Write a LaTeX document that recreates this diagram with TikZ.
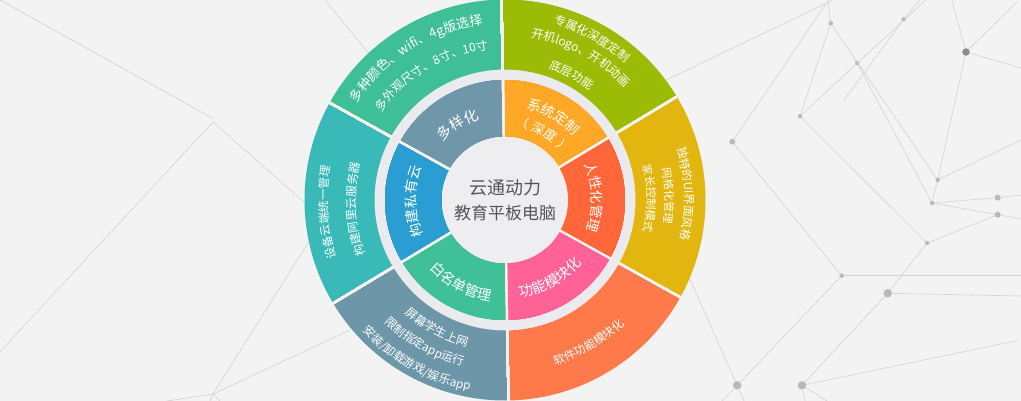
\documentclass[tikz,border=0pt]{standalone}
\usepackage{fontspec}
\setmainfont{Noto Sans CJK SC}
\usepackage{xcolor}
\usetikzlibrary{decorations.text}
\definecolor{paper}{HTML}{F3F3F4}
\definecolor{ringgap}{HTML}{EBEBEF}
\definecolor{hubfill}{HTML}{EEEEF1}
\definecolor{hubtext}{HTML}{555555}
\definecolor{netline}{HTML}{D2D2D2}
\definecolor{netdot}{HTML}{B9B9B9}
\definecolor{netdark}{HTML}{8C8C8C}
\definecolor{spoke}{HTML}{F3F3F0}
\definecolor{limeout}{HTML}{9BBB07}
\definecolor{greenout}{HTML}{3FBF95}
\definecolor{tealout}{HTML}{3AB9B9}
\definecolor{steelout}{HTML}{6D97A9}
\definecolor{coralout}{HTML}{FF7A4B}
\definecolor{goldout}{HTML}{E2B60E}
\definecolor{amberin}{HTML}{FFA726}
\definecolor{steelin}{HTML}{6F97A9}
\definecolor{bluein}{HTML}{2A9DD2}
\definecolor{greenin}{HTML}{3FC096}
\definecolor{pinkin}{HTML}{FF6296}
\definecolor{redin}{HTML}{FF6639}
\tikzset{
  NetLine/.style={draw=netline, line width=0.6pt},
  DotSmall/.style={circle, fill=netdot, inner sep=0pt, minimum size=4.5pt},
  DotMid/.style={circle, fill=netdot, inner sep=0pt, minimum size=6pt},
  DotBig/.style={circle, fill=netdot, inner sep=0pt, minimum size=8.5pt},
  DotDark/.style={circle, fill=netdark, inner sep=0pt, minimum size=7.5pt},
  HubText/.style={align=center, text=hubtext, inner sep=0pt}
}
\newcommand{\SectorBlock}[4]{%
  % #1 = inner radius, #2 = outer radius, #3 = start angle, #4 = colour
  \fill[#4] ({#3}:#1) arc[start angle={#3}, end angle={#3+60}, radius=#1]
    -- ({#3+60}:#2) arc[start angle={#3+60}, end angle={#3}, radius=#2] -- cycle;
}
\newcommand{\ArcTextOut}[4]{%
  % #1 = baseline radius, #2 = middle angle, #3 = font size, #4 = text (tops outward)
  \path[decorate, decoration={text along path, text align=center, text color=white,
    text={|\fontsize{#3}{#3}\selectfont|#4}}]
    ({#2+70}:#1) arc[start angle={#2+70}, end angle={#2-70}, radius=#1];
}
\newcommand{\ArcTextIn}[4]{%
  % same, tops toward the centre
  \path[decorate, decoration={text along path, text align=center, text color=white,
    text={|\fontsize{#3}{#3}\selectfont|#4}}]
    ({#2-70}:#1) arc[start angle={#2-70}, end angle={#2+70}, radius=#1];
}
\begin{document}
\begin{tikzpicture}[x=1pt, y=-1pt]
  \useasboundingbox (0,0) rectangle (1021,401);
  \fill[paper] (0,0) rectangle (1021,401);

  % background network, right side
  \node[DotSmall] (ra) at (830.7,23.3) {};
  \node[DotSmall] (rb) at (857.3,63) {};
  \node[DotSmall] (rc) at (903.7,19.3) {};
  \node[DotDark] (rd) at (966,52) {};
  \node[DotSmall] (re) at (800,116.3) {};
  \node[DotMid] (rf) at (732.3,141.7) {};
  \node[DotSmall] (rg) at (937.7,180) {};
  \node[DotSmall] (rh) at (932,203) {};
  \node[DotMid] (ri) at (997.7,197.7) {};
  \node[DotMid] (rj) at (997.7,214.7) {};
  \node[DotSmall] (rk) at (927,243) {};
  \node[DotSmall] (rl) at (841.7,275.7) {};
  \node[DotBig] (rm) at (887.7,293.3) {};
  \node[DotBig] (rn) at (737.3,385.3) {};
  \node[DotBig] (ro) at (802,385.3) {};
  \coordinate (top1) at (828,1);
  \coordinate (lineend) at (660,83);
  \coordinate (top2) at (926,0);
  \coordinate (top3) at (920,0);
  \coordinate (loose) at (844,100);
  \coordinate (top4) at (951.7,0);
  \draw[NetLine] (lineend)--(833,0);
  \draw[NetLine] (top1)--(ra);
  \draw[NetLine] (top1)--(rf);
  \draw[NetLine] (ra)--(re);
  \draw[NetLine] (ra)--(rg);
  \draw[NetLine] (re)--(rb)--(top2);
  \draw[NetLine] (rb)--(rh);
  \draw[NetLine] (loose)--(rc)--(top3);
  \draw[NetLine] (top4)--(rd);
  \draw[NetLine] (rd)--(1017,2);
  \draw[NetLine] (rd)--(1021,68);
  \draw[NetLine] (rd)--(rg)--(rh);
  \draw[NetLine] (rg)--(1021,140);
  \draw[NetLine] (rh)--(ri)--(1021,195);
  \draw[NetLine] (rh)--(rj)--(1021,218.7);
  \draw[NetLine] (rj)--(rk)--(re);
  \draw[NetLine] (rk)--(rm)--(ro);
  \draw[NetLine] (rm)--(1021,296);
  \draw[NetLine] (rf)--(rl)--(rn);
  \draw[NetLine] (rl)--(1021,275.7);
  \draw[NetLine] (ro)--(1017,340.7);
  \draw[NetLine] (ro)--(827,401);
  \draw[NetLine] (ro)--(805,401);
  \draw[NetLine] (rn)--(722,401);
  \draw[NetLine] (rn)--(744,401);
  \draw[NetLine] (rn)--(680,257);

  % background network, left side
  \coordinate (la) at (213,122);
  \coordinate (lb) at (213,394);
  \draw[NetLine] (0,0)--(213,118.5);
  \draw[NetLine] (0,351.7)--(la)--(330,225);
  \draw[NetLine] (330,208)--(lb);
  \draw[NetLine] (lb)--(350,330);
  \draw[NetLine] (lb)--(167,401);
  \draw[NetLine] (lb)--(210,401);
  \draw[NetLine] (lb)--(220,401);
  \draw[NetLine] (325,0)--(370,55);

  \begin{scope}[shift={(505,200)}, x=1pt, y=1pt]
    % wheel
    \fill[ringgap] (0,0) circle[radius=132];
    \foreach \a/\c in {31/limeout, 91/greenout, 151/tealout, 211/steelout, 271/coralout, 331/goldout}
      \SectorBlock{130.5}{200.5}{\a}{\c}
    \foreach \a/\c in {31/amberin, 91/steelin, 151/bluein, 211/greenin, 271/pinkin, 331/redin}
      \SectorBlock{62}{120}{\a}{\c}
    \foreach \a in {31,91,...,331} {
      \draw[spoke, line width=2.2pt] (\a:130)--(\a:201);
      \draw[spoke, line width=2.2pt] (\a:62)--(\a:121);
    }
    \fill[hubfill] (0,0) circle[radius=63];

    \node[HubText] (hub) at (0,0) {\fontsize{18}{20}\selectfont 云通动力\\[8pt]\fontsize{17}{20}\selectfont 教育平板电脑};

    % outer ring texts
    \ArcTextOut{177}{122}{13}{多种颜色、wifi、4g版选择}
    \ArcTextOut{151.5}{120.5}{12}{多外观尺寸、8寸、10寸}
    \ArcTextOut{182.5}{61.7}{11.8}{专属化深度定制}
    \ArcTextOut{164.5}{62}{12}{开机logo、开机动画}
    \ArcTextOut{138.5}{62}{11.7}{底层功能}
    \ArcTextOut{179.5}{2}{11.5}{独特的UI界面风格}
    \ArcTextOut{160}{1.5}{11}{网格化管理}
    \ArcTextOut{142}{0.6}{11.2}{家长控制模式}
    \ArcTextOut{177.5}{184}{11.5}{设备云端统一管理}
    \ArcTextOut{149.5}{183.5}{11.7}{构建阿里云服务器}
    \ArcTextIn{151.5}{242}{11.8}{屏幕学生上网}
    \ArcTextIn{171.5}{240.5}{11.6}{限制指定app运行}
    \ArcTextIn{193.5}{241}{11.8}{安装/卸载游戏/娱乐app}
    \ArcTextIn{172.5}{300.4}{11.6}{软件功能模块化}

    % inner ring texts
    \ArcTextOut{85}{122}{14.5}{多样化}
    \ArcTextOut{94}{60}{14}{系统定制}
    \ArcTextOut{74}{60}{13}{（ 深度 ）}
    \ArcTextOut{87}{1.5}{13.5}{人性化管理}
    \ArcTextOut{89}{181}{14}{构建私有云}
    \ArcTextIn{99}{300}{14.4}{功能模块化}
    \ArcTextIn{102}{242}{14.2}{白名单管理}
  \end{scope}
\end{tikzpicture}
\end{document}
